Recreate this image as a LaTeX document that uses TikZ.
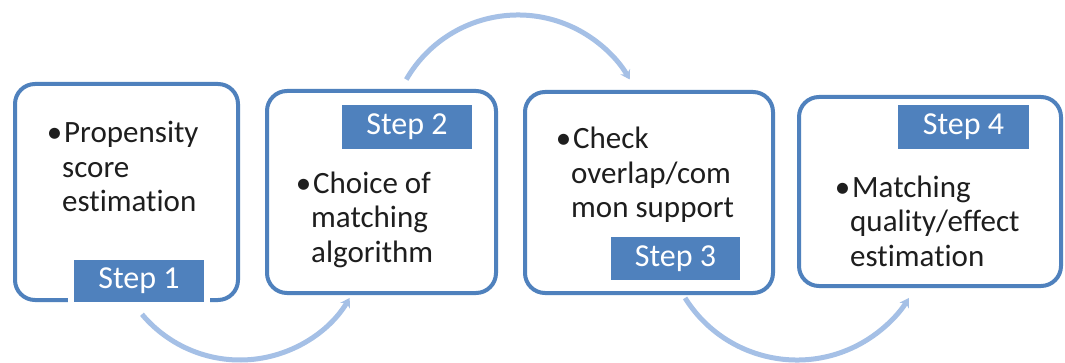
\documentclass[tikz,border=0pt]{standalone}
\usepackage{fontspec}
\setmainfont{Carlito}[Ligatures={NoCommon}]
\usetikzlibrary{arrows.meta,calc}
\definecolor{stepblue}{HTML}{4F81BD}
\definecolor{flowblue}{RGB}{165,192,230}
\definecolor{bodytext}{RGB}{30,30,30}
\tikzset{
  stepbox/.style={draw=stepblue, line width=4pt, rounded corners=20pt, fill=white, inner sep=0pt},
  steplabel/.style={draw=white, line width=6pt, fill=stepblue, text=white, inner sep=0pt,
    font=\fontsize{32}{36}\selectfont},
  bodytxt/.style={anchor=base west, inner sep=0pt, text=bodytext,
    font=\fontsize{31}{34.5}\selectfont},
  flow/.style={draw=flowblue, line width=5pt, -{Stealth[length=9pt,width=11pt]}}
}
\newcommand{\bul}{\llap{•}\hspace{2pt}}
\begin{document}
\begin{tikzpicture}[x=1pt,y=1pt]
\useasboundingbox (0,0) rectangle (1065,362);
\fill[white] (0,0) rectangle (1065,362);
% arc centres
\coordinate (c1) at (240,130);
\coordinate (c2) at (518,218);
\coordinate (c3) at (797,134);
\coordinate (a1) at ($(c1)+(220:128)$);
\coordinate (a2) at ($(c2)+(150:129)$);
\coordinate (a3) at ($(c3)+(212:132)$);
% connectors
\draw[flow] (a1) arc[start angle=220, end angle=329, radius=128];
\draw[flow] (a2) arc[start angle=150, end angle=30, radius=129];
\draw[flow] (a3) arc[start angle=212, end angle=328, radius=132];
% boxes
\node[stepbox, minimum width=223pt, minimum height=216pt] (box1) at (126.5,170) {};
\node[stepbox, minimum width=229pt, minimum height=202pt] (box2) at (381.5,170) {};
\node[stepbox, minimum width=248pt, minimum height=201pt] (box3) at (649,169.5) {};
\node[stepbox, minimum width=262pt, minimum height=189pt] (box4) at (930,170.5) {};
% labels
\node[steplabel, minimum width=136pt, minimum height=48pt] (l1) at (139,81) {Step 1};
\node[steplabel, minimum width=136pt, minimum height=50pt] (l2) at (407,235) {Step 2};
\node[steplabel, minimum width=135pt, minimum height=49pt] (l3) at (675.5,103.5) {Step 3};
\node[steplabel, minimum width=137pt, minimum height=50pt] (l4) at (963.5,235) {Step 4};
% texts
\node[bodytxt] (t1) at (62,219) {\begin{tabular}[t]{@{}l@{}}\bul Propensity\\score\\estimation\end{tabular}};
\node[bodytxt] (t2) at (311,169) {\begin{tabular}[t]{@{}l@{}}\bul Choice of\\matching\\algorithm\end{tabular}};
\node[bodytxt] (t3) at (571,213) {\begin{tabular}[t]{@{}l@{}}\bul Check\\overlap/com\\mon support\end{tabular}};
\node[bodytxt] (t4) at (850,165) {\begin{tabular}[t]{@{}l@{}}\bul Matching\\quality/effect\\estimation\end{tabular}};
\end{tikzpicture}
\end{document}
